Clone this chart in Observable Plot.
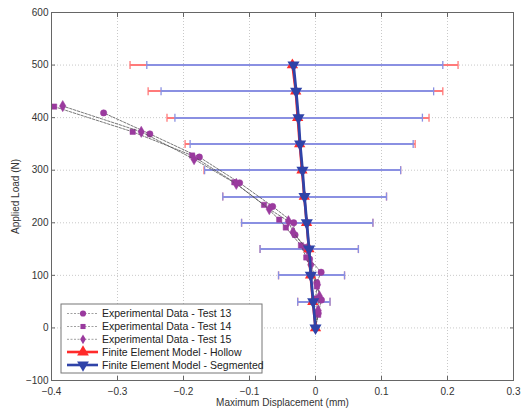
<!DOCTYPE html>
<html>
<head>
<meta charset="utf-8">
<script src="https://cdn.jsdelivr.net/npm/d3@7"></script>
<script src="https://cdn.jsdelivr.net/npm/@observablehq/plot@0.6"></script>
<style>
  body { margin: 0; background: #fff; }
  #chart { position: relative; width: 527px; height: 410px; }
</style>
</head>
<body>
<div id="chart"></div>
<script>
// ---- data ----
const xTicks = [-0.4, -0.3, -0.2, -0.1, 0, 0.1, 0.2, 0.3];
const yTicks = [-100, 0, 100, 200, 300, 400, 500, 600];

const feLoad = [0, 50, 100, 150, 200, 250, 300, 350, 400, 450, 500];
const feHollow = [0, -0.004, -0.0075, -0.010, -0.0135, -0.017, -0.0205, -0.024, -0.027, -0.030, -0.035];
const feSegmented = [0, -0.0035, -0.0071, -0.0097, -0.0132, -0.0167, -0.0197, -0.0233, -0.0258, -0.0293, -0.0333];

const errLoad = [50, 100, 150, 200, 250, 300, 350, 400, 450, 500];
const hollowErrLow = [-0.027, -0.056, -0.084, -0.112, -0.1405, -0.169, -0.1976, -0.225, -0.2536, -0.281];
const hollowErrHigh = [0.022, 0.044, 0.065, 0.087, 0.1076, 0.129, 0.151, 0.172, 0.1929, 0.216];
const segErrLow = [-0.027, -0.056, -0.084, -0.112, -0.1405, -0.168, -0.190, -0.213, -0.234, -0.2556];
const segErrHigh = [0.022, 0.044, 0.065, 0.087, 0.1076, 0.129, 0.148, 0.162, 0.179, 0.1929];

const test13Disp = [0, 0.004, 0.009, 0.002, 0.0085, -0.009, -0.016, -0.031, -0.033, -0.065, -0.115, -0.176, -0.251, -0.321];
const test13Load = [0, 28, 53, 86, 106, 131, 153, 177, 200, 231, 276, 325, 369, 409];
const test14Disp = [0, 0.004, 0.0005, 0.002, -0.014, -0.022, -0.045, -0.055, -0.078, -0.123, -0.187, -0.277, -0.396];
const test14Load = [0, 25, 56, 79, 134, 157, 191, 206, 234, 277, 328, 373, 421];
const test15Disp = [0, 0.004, 0.006, 0.003, -0.007, -0.013, -0.034, -0.041, -0.070, -0.120, -0.184, -0.264, -0.383];
const test15Load = [0, 33, 60, 82, 120, 150, 182, 203, 226, 274, 321, 373, 422];

const legendLabels = [
  "Experimental Data - Test 13",
  "Experimental Data - Test 14",
  "Experimental Data - Test 15",
  "Finite Element Model - Hollow",
  "Finite Element Model - Segmented"
];

// ---- build tables ----
const fe = (xs) => feLoad.map((l, i) => ({x: xs[i], y: l}));
const hollow = fe(feHollow);
const segmented = fe(feSegmented);
const errs = (lo, hi) => errLoad.map((l, i) => ({lo: lo[i], hi: hi[i], y: l}));
const hollowErr = errs(hollowErrLow, hollowErrHigh);
const segErr = errs(segErrLow, segErrHigh);
const test = (xs, ys) => xs.map((x, i) => ({x, y: ys[i]}));
const t13 = test(test13Disp, test13Load);
const t14 = test(test14Disp, test14Load);
const t15 = test(test15Disp, test15Load);

const capSymbol = { draw(ctx, size) { const h = Math.sqrt(size) / 2; ctx.moveTo(0, -h); ctx.lineTo(0, h); } };

const purple = "#9a3a9e";
const red = "#ff2a2a";
const blue = "#2f43a8";
const errRed = "#ff7a7a";
const errBlue = "#8a90e2";
const font = "Liberation Sans, Arial, sans-serif";

function capMarks(data, color) {
  return [
    Plot.link(data, {x1: "lo", x2: "hi", y1: "y", y2: "y", stroke: color, strokeWidth: 2, shapeRendering: "crispEdges"}),
    Plot.dot(data, {x: "lo", y: "y", symbol: capSymbol, r: 4.5, stroke: color, strokeWidth: 1.3, fill: "none"}),
    Plot.dot(data, {x: "hi", y: "y", symbol: capSymbol, r: 4.5, stroke: color, strokeWidth: 1.3, fill: "none"})
  ];
}

function testMarks(data, symbol, r) {
  return [
    Plot.line(data, {x: "x", y: "y", stroke: "#555", strokeWidth: 0.8, strokeDasharray: "2.5,1.5"}),
    Plot.dot(data, {x: "x", y: "y", symbol, r, fill: purple, stroke: purple, strokeWidth: 0.5})
  ];
}

const chart = Plot.plot({
  width: 527,
  height: 410,
  marginLeft: 51,
  marginRight: 14,
  marginTop: 12,
  marginBottom: 30,
  style: {fontFamily: font, fontSize: "10px", color: "#333", background: "#fff"},
  x: {domain: [-0.4, 0.3]},
  y: {domain: [-100, 600]},
  marks: [
    Plot.gridX(xTicks.slice(1, -1), {stroke: "#bbb", strokeOpacity: 0.8, strokeDasharray: "1,2"}),
    Plot.gridY(yTicks.slice(1, -1), {stroke: "#bbb", strokeOpacity: 0.8, strokeDasharray: "1,2"}),
    ...capMarks(hollowErr, errRed),
    ...capMarks(segErr, errBlue),
    ...testMarks(t13, "circle", 3.2),
    ...testMarks(t14, "square", 3),
    ...testMarks(t15, "diamond", 3.4),
    Plot.line(hollow, {x: "x", y: "y", stroke: red, strokeWidth: 2.5}),
    Plot.dot(hollow, {x: "x", y: "y", symbol: "triangle", r: 4.2, fill: red}),
    Plot.line(segmented, {x: "x", y: "y", stroke: blue, strokeWidth: 2.8}),
    Plot.dot(segmented, {x: "x", y: "y", symbol: "triangle", r: 4.5, fill: blue, rotate: 180}),
    Plot.frame({stroke: "#666", strokeWidth: 1}),
    Plot.axisX(xTicks, {anchor: "bottom", tickSize: -4, tickPadding: 11, stroke: "#666", label: "Maximum Displacement (mm)", labelAnchor: "center", labelOffset: 25, labelArrow: "none", fontSize: 10, tickFormat: d => d3.format("")(+d.toFixed(1))}),
    Plot.axisX(xTicks, {anchor: "top", tickSize: -4, stroke: "#666", tickFormat: () => "", label: null}),
    Plot.axisY(yTicks, {anchor: "left", tickSize: -4, tickPadding: 7, stroke: "#666", label: "Applied Load (N)", labelAnchor: "center", labelOffset: 40, labelArrow: "none", fontSize: 10}),
    Plot.axisY(yTicks, {anchor: "right", tickSize: -4, stroke: "#666", tickFormat: () => "", label: null})
  ]
});

document.getElementById("chart").appendChild(chart);

// ---- legend (pixel layout inside the SVG) ----
const svg = d3.select(chart);
const lg = svg.append("g").attr("font-family", font).attr("font-size", 10.5).attr("fill", "#222").attr("text-anchor", "start");
const bx = 61, by = 304, bw = 201, bh = 69;
lg.append("rect").attr("x", bx).attr("y", by).attr("width", bw).attr("height", bh).attr("fill", "#fff").attr("stroke", "#777");
const rowY = [313.5, 326.5, 339.3, 352, 365];
const legendStyles = [
  {kind: "test", symbol: d3.symbolCircle, size: 30},
  {kind: "test", symbol: d3.symbolSquare, size: 26},
  {kind: "test", symbol: d3.symbolDiamond, size: 28},
  {kind: "fe", color: red, symbol: d3.symbolTriangle, rotate: 0},
  {kind: "fe", color: blue, symbol: d3.symbolTriangle, rotate: 180}
];
legendLabels.forEach((label, i) => {
  const y = rowY[i], s = legendStyles[i];
  if (s.kind === "test") {
    lg.append("line").attr("x1", 67).attr("x2", 98).attr("y1", y).attr("y2", y)
      .attr("stroke", "#888").attr("stroke-width", 0.8).attr("stroke-dasharray", "2,1.5");
    lg.append("path").attr("d", d3.symbol(s.symbol, s.size)()).attr("transform", `translate(83,${y})`).attr("fill", purple);
  } else {
    lg.append("line").attr("x1", 67).attr("x2", 98).attr("y1", y).attr("y2", y)
      .attr("stroke", s.color).attr("stroke-width", 2.6);
    lg.append("path").attr("d", d3.symbol(s.symbol, 60)()).attr("transform", `translate(83,${y}) rotate(${s.rotate})`).attr("fill", s.color);
  }
  lg.append("text").attr("x", 102).attr("y", y).attr("dy", "0.35em").attr("text-anchor", "start").text(label);
});
</script>
</body>
</html>
